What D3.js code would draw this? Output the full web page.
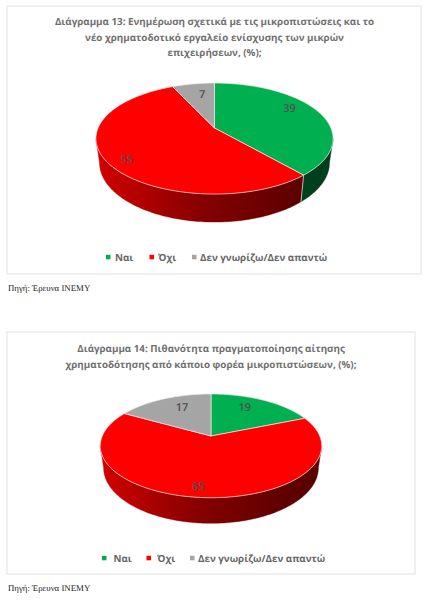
<!DOCTYPE html>
<html lang="el">
<head>
<meta charset="utf-8">
<title>Διαγράμματα 13 και 14</title>
<script src="https://cdn.jsdelivr.net/npm/d3@7/dist/d3.min.js"></script>
<style>
  html, body { margin: 0; padding: 0; background: #fff; }
  svg { display: block; text-rendering: geometricPrecision; }
  .title { font: 700 9.8px "Open Sans", sans-serif; fill: #707070; text-anchor: middle; }
  .legend { font: 700 9.8px "Open Sans", sans-serif; fill: #666; }
  .value { font: 600 11px "Open Sans", sans-serif; fill: #505050; text-anchor: middle; dominant-baseline: central; }
  .source { font: 8.8px "Liberation Serif", serif; fill: #222; }
</style>
</head>
<body>
<div id="chart"></div>
<script>
// Survey answers shared by both pies
const categories = ["Ναι", "Όχι", "Δεν γνωρίζω/Δεν απαντώ"];
const sliceColors = ["#00b050", "#ff0000", "#a5a5a5"];

const values13 = [39, 55, 7];
const values14 = [19, 65, 17];

const title13 = [
  "Διάγραμμα 13: Ενημέρωση σχετικά με τις μικροπιστώσεις και το",
  "νέο χρηματοδοτικό εργαλείο ενίσχυσης των μικρών",
  "επιχειρήσεων, (%);"
];
const title14 = [
  "Διάγραμμα 14: Πιθανότητα πραγματοποίησης αίτησης",
  "χρηματοδότησης από κάποιο φορέα μικροπιστώσεων, (%);"
];
const sourceText = "Πηγή: Έρευνα ΙΝΕΜΥ";

// Layout of each panel: frame, disc projection, wall, label and legend placement
const layout13 = {
  id: "p13", frame: [7, 6, 414, 268],
  titleX: 214.5, titleY: [25, 40.5, 55.5],
  cx: 214.5, cy: 128, rx: 116.4, ry: 53.5, drop: 23.4,
  labelRadius: [0.79, 0.86, 0.73], labelTurn: [-8.5, -5, 3],
  legendY: 257, swatchX: [106, 149.5, 192], textX: [115, 158, 200],
  sourceY: 291
};
const layout14 = {
  id: "p14", frame: [7, 332, 408, 242],
  titleX: 211, titleY: [351.5, 367.5],
  cx: 211, cy: 436, rx: 108.7, ry: 50, drop: 21.3,
  labelRadius: [0.72, 0.86, 0.70], labelTurn: [-5, 3, 5],
  legendY: 558, swatchX: [102, 146.5, 190], textX: [113.5, 157, 198],
  sourceY: 590.5
};

const perspective = 0.19;      // foreshortening of the far side of the disc
const wallScaleX = 0.97;       // lower rim is slightly narrower...
const wallScaleY = 1.07;       // ...and seen a little more from above

const svg = d3.select("#chart").append("svg").attr("width", 429).attr("height", 601);
const defs = svg.append("defs");
const tau = 2 * Math.PI;
const line = d3.line();
const pie = d3.pie().sort(null).startAngle(0).endAngle(tau);
const color = d3.scaleOrdinal().domain(categories).range(sliceColors);

function drawPanel(values, titleLines, cfg) {
  const g = svg.append("g").attr("id", cfg.id);
  const scaleX = d3.scaleLinear().domain([-1, 1]).range([cfg.cx - cfg.rx, cfg.cx + cfg.rx]);
  const scaleY = d3.scaleLinear().domain([-1, 1]).range([cfg.cy + cfg.ry, cfg.cy - cfg.ry]);

  // Disc coordinates (angle clockwise from the top, radius 0..1) to the tilted view
  const project = (angle, r = 1) => {
    const x = r * Math.sin(angle), y = r * Math.cos(angle);
    const w = 1 + perspective * y;
    return [scaleX(x / w), scaleY(y / w)];
  };
  const projectLower = angle => {
    const [px, py] = project(angle);
    return [cfg.cx + (px - cfg.cx) * wallScaleX, cfg.cy + cfg.drop + (py - cfg.cy) * wallScaleY];
  };
  const arcAngles = (a0, a1) => {
    const n = Math.max(2, Math.ceil((a1 - a0) / 0.02));
    return d3.range(n + 1).map(i => a0 + (a1 - a0) * i / n);
  };

  g.append("rect")
    .attr("x", cfg.frame[0]).attr("y", cfg.frame[1])
    .attr("width", cfg.frame[2]).attr("height", cfg.frame[3])
    .attr("fill", "#fff").attr("stroke", "#e9e9e9").attr("stroke-width", 1.3);

  g.selectAll("text.title").data(titleLines).join("text")
    .attr("class", "title")
    .attr("x", cfg.titleX)
    .attr("y", (d, i) => cfg.titleY[i])
    .text(d => d);

  const arcs = pie(values);

  // The wall darkens from left to right across the whole pie
  const leftEdge = cfg.cx - cfg.rx, rightEdge = cfg.cx + cfg.rx;
  categories.forEach((c, i) => {
    const base = d3.rgb(color(c));
    const shade = k => d3.rgb(base.r * k, base.g * k, base.b * k).formatHex();
    defs.append("linearGradient")
      .attr("id", `${cfg.id}-wall-${i}`)
      .attr("gradientUnits", "userSpaceOnUse")
      .attr("x1", leftEdge).attr("x2", rightEdge).attr("y1", 0).attr("y2", 0)
      .selectAll("stop")
      .data([[0, 0.82], [0.45, 0.52], [0.85, 0.37], [1, 0.35]])
      .join("stop")
      .attr("offset", d => d[0])
      .attr("stop-color", d => shade(d[1]));
  });

  // Only the near part of the rim can be seen
  const tangent = Math.asin(perspective);
  const visibleFrom = tau / 4 + tangent, visibleTo = 3 * tau / 4 - tangent;

  arcs.forEach((a, i) => {
    const a0 = Math.max(a.startAngle, visibleFrom), a1 = Math.min(a.endAngle, visibleTo);
    if (a1 <= a0) return;
    const angles = arcAngles(a0, a1);
    const outline = angles.map(t => project(t)).concat(angles.slice().reverse().map(projectLower));
    g.append("path")
      .attr("d", line(outline) + "Z")
      .attr("fill", `url(#${cfg.id}-wall-${i})`)
      .attr("stroke", `url(#${cfg.id}-wall-${i})`)
      .attr("stroke-width", 0.4);
  });

  // Pale seams where two wall sections meet
  arcs.forEach(a => {
    if (a.startAngle > visibleFrom && a.startAngle < visibleTo) {
      g.append("path")
        .attr("d", line([project(a.startAngle), projectLower(a.startAngle)]))
        .attr("stroke", "#d9d9d9").attr("stroke-width", 0.8).attr("fill", "none");
    }
  });

  // Top face
  g.selectAll("path.slice").data(arcs).join("path")
    .attr("class", "slice")
    .attr("d", a => line([project(0, 0)].concat(arcAngles(a.startAngle, a.endAngle).map(t => project(t)))) + "Z")
    .attr("fill", (a, i) => sliceColors[i])
    .attr("stroke", "#f2e6e6").attr("stroke-width", 0.7).attr("stroke-linejoin", "round");

  // Value labels sit on the slices, nudged off the mid-angle so they stay clear
  g.selectAll("text.value").data(arcs).join("text")
    .attr("class", "value")
    .attr("transform", (a, i) => {
      const mid = (a.startAngle + a.endAngle) / 2 + cfg.labelTurn[i] * Math.PI / 180;
      return `translate(${project(mid, cfg.labelRadius[i])})`;
    })
    .text(a => a.data);

  // Legend row
  const items = g.selectAll("g.item").data(categories).join("g").attr("class", "item");
  items.append("rect")
    .attr("x", (d, i) => cfg.swatchX[i]).attr("y", cfg.legendY - 2.2)
    .attr("width", 4.5).attr("height", 4.5)
    .attr("fill", d => color(d));
  items.append("text")
    .attr("class", "legend")
    .attr("x", (d, i) => cfg.textX[i]).attr("y", cfg.legendY + 3.8)
    .text(d => d);

  g.append("text").attr("class", "source")
    .attr("x", 8).attr("y", cfg.sourceY).text(sourceText);
}

drawPanel(values13, title13, layout13);
drawPanel(values14, title14, layout14);
</script>
</body>
</html>
